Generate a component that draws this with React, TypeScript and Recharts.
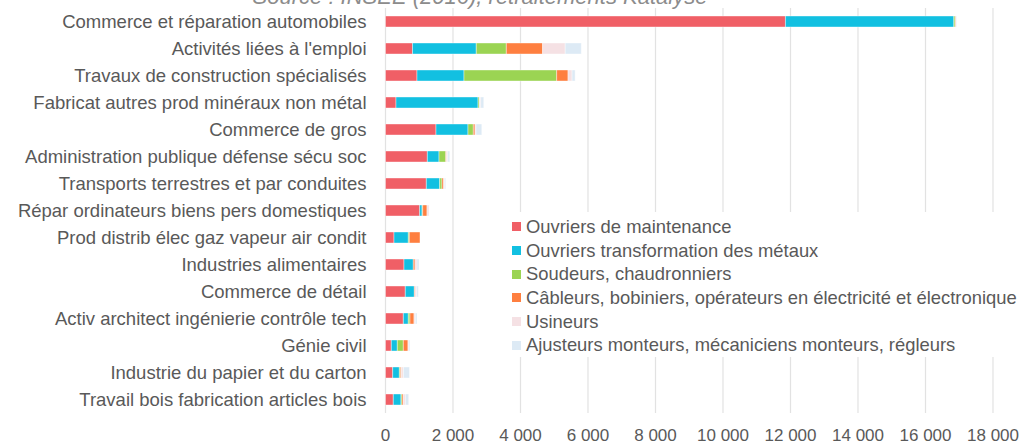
import React from 'react'
import { BarChart, Bar, XAxis, YAxis, CartesianGrid, Legend } from 'recharts'

const categories = [
  'Commerce et réparation automobiles',
  "Activités liées à l'emploi",
  'Travaux de construction spécialisés',
  'Fabricat autres prod minéraux non métal',
  'Commerce de gros',
  'Administration publique défense sécu soc',
  'Transports terrestres et par conduites',
  'Répar ordinateurs biens pers domestiques',
  'Prod distrib élec gaz vapeur air condit',
  'Industries alimentaires',
  'Commerce de détail',
  'Activ architect ingénierie contrôle tech',
  'Génie civil',
  'Industrie du papier et du carton',
  'Travail bois fabrication articles bois',
]

const maintenance = [11850, 800, 933, 311, 1496, 1240, 1210, 1013, 252, 548, 587, 528, 172, 213, 231]
const metaux = [4990, 1890, 1393, 2430, 948, 346, 395, 69, 424, 276, 267, 148, 178, 198, 228]
const soudeurs = [40, 890, 2746, 40, 158, 198, 68, 20, 30, 0, 0, 50, 178, 30, 30]
const cableurs = [20, 1075, 336, 0, 50, 20, 50, 128, 316, 50, 20, 118, 138, 30, 40]
const usineurs = [0, 670, 120, 40, 30, 40, 30, 60, 0, 60, 50, 40, 30, 60, 60]
const ajusteurs = [20, 475, 90, 90, 170, 60, 30, 0, 0, 60, 50, 50, 30, 178, 98]

const xTicks = [0, 2000, 4000, 6000, 8000, 10000, 12000, 14000, 16000, 18000]

const series = [
  { key: 'maintenance', name: 'Ouvriers de maintenance', color: '#F05F66' },
  { key: 'metaux', name: 'Ouvriers transformation des métaux', color: '#12C0E1' },
  { key: 'soudeurs', name: 'Soudeurs, chaudronniers', color: '#9BD453' },
  { key: 'cableurs', name: 'Câbleurs, bobiniers, opérateurs en électricité et électronique', color: '#FE7F40' },
  { key: 'usineurs', name: 'Usineurs', color: '#F5E1E4' },
  { key: 'ajusteurs', name: 'Ajusteurs monteurs, mécaniciens monteurs, régleurs', color: '#DDEAF5' },
]

const data = categories.map((name, i) => ({
  name,
  maintenance: maintenance[i],
  metaux: metaux[i],
  soudeurs: soudeurs[i],
  cableurs: cableurs[i],
  usineurs: usineurs[i],
  ajusteurs: ajusteurs[i],
}))

const FONT = '"Liberation Sans", Arial, sans-serif'
const GREY = '#595959'

const fmt = (v: number) => String(v).replace(/\B(?=(\d{3})+(?!\d))/g, ' ')

// legend kept in series order (recharts 3 sorts the payload by default)
function LegendBox() {
  return (
    <ul style={{ margin: 0, padding: '3px 0 0 7px', listStyle: 'none', background: '#fff', height: 142 }}>
      {series.map((s) => (
        <li key={s.key} style={{ height: 23.7, display: 'flex', alignItems: 'center', whiteSpace: 'nowrap' }}>
          <span style={{ width: 9, height: 9, background: s.color, display: 'inline-block', marginRight: 5 }} />
          <span style={{ fontSize: 18.4, color: GREY, fontFamily: FONT }}>{s.name}</span>
        </li>
      ))}
    </ul>
  )
}

export default function App() {
  return (
    <div style={{ position: 'absolute', left: 0, top: 0, width: 1026, height: 444, background: '#fff', overflow: 'hidden', fontFamily: FONT }}>
      <div
        style={{
          position: 'absolute', left: 0, width: 960, top: -13.6, textAlign: 'center',
          fontSize: 22, lineHeight: '22px', fontStyle: 'italic', color: '#8c8c8c', zIndex: 2,
        }}
      >
        Source : INSEE (2016), retraitements Katalyse
      </div>
      <BarChart
        width={1026}
        height={444}
        data={data}
        layout="vertical"
        margin={{ top: 8, right: 33, left: 0, bottom: 0 }}
        barSize={11}
      >
        <CartesianGrid horizontal={false} stroke="#E2E2E2" strokeWidth={1.2} />
        <XAxis
          type="number"
          domain={[0, 18000]}
          ticks={xTicks}
          tickFormatter={fmt}
          axisLine={false}
          tickLine={false}
          tickSize={8}
          tickMargin={8}
          height={31}
          tick={{ fill: GREY, fontSize: 17, fontFamily: FONT }}
        />
        <YAxis
          type="category"
          dataKey="name"
          width={385.5}
          interval={0}
          axisLine={false}
          tickLine={false}
          tickSize={10}
          tickMargin={9}
          tick={{ fill: GREY, fontSize: 18.5, fontFamily: FONT }}
        />
        <Legend
          layout="vertical"
          align="center"
          verticalAlign="middle"
          content={<LegendBox />}
          wrapperStyle={{ left: 505, top: 212, width: 521 }}
        />
        {series.map((s) => (
          <Bar
            key={s.key}
            dataKey={s.key}
            name={s.name}
            stackId="a"
            fill={s.color}
            stroke="#ffffff"
            strokeWidth={0.4}
            isAnimationActive={false}
          />
        ))}
      </BarChart>
    </div>
  )
}
